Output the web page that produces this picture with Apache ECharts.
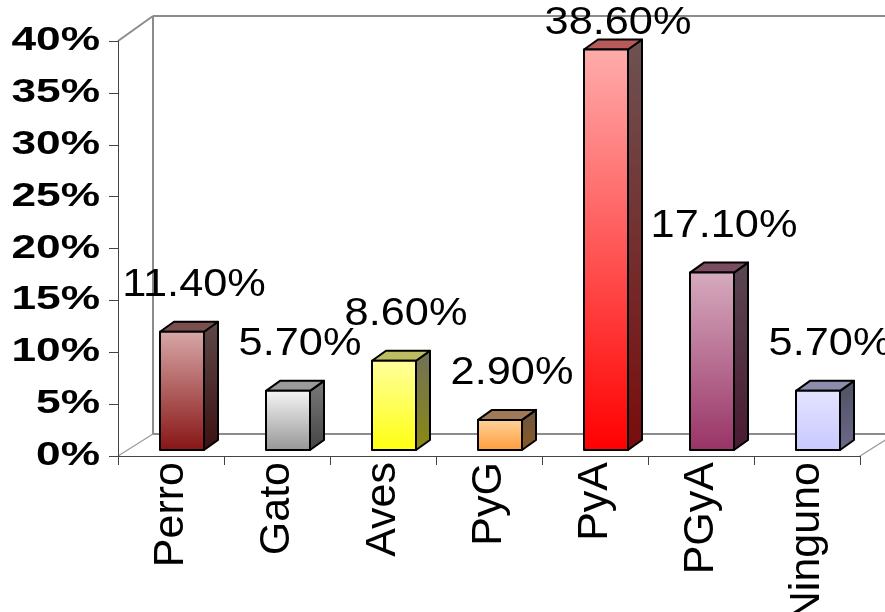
<!DOCTYPE html>
<html>
<head>
<meta charset="utf-8">
<script src="https://cdn.jsdelivr.net/npm/echarts@6/dist/echarts.min.js"></script>
<style>
  html, body { margin: 0; padding: 0; background: #ffffff; }
  #chart { width: 885px; height: 612px; }
</style>
</head>
<body>
<div id="chart"></div>
<script>
// Pet ownership shares
const categories = ['Perro', 'Gato', 'Aves', 'PyG', 'PyA', 'PGyA', 'Ninguno'];
const shares = [0.114, 0.057, 0.086, 0.029, 0.386, 0.171, 0.057];

// Value axis ticks and their labels
const yTicks = [0, 0.05, 0.10, 0.15, 0.20, 0.25, 0.30, 0.35, 0.40];
const yTickLabels = ['0%', '5%', '10%', '15%', '20%', '25%', '30%', '35%', '40%'];

// Box colours: front face gradient, side face gradient, lid
const frontTop    = ['#d8a8a8', '#f6f6f6', '#ffff9e', '#ffd49c', '#ffacac', '#d6abbf', '#e4e4ff'];
const frontBottom = ['#871414', '#969696', '#ffff10', '#ff9c3c', '#ff0000', '#993366', '#c8c8ff'];
const sideTop     = ['#5e4848', '#7a7a7a', '#70705a', '#6c5442', '#6e5252', '#5a4652', '#505062'];
const sideBottom  = ['#3d1010', '#444444', '#8a8a10', '#8a5a22', '#7a0c0c', '#4a1a30', '#6a6a8a'];
const lidColors   = ['#7b4f4f', '#9a9a9a', '#bcbc62', '#a07a58', '#b85a5a', '#7c4c62', '#8c8cac'];

const GRID = { left: 118, right: 25, top: 41, bottom: 156 };
const FONT = '"Liberation Sans", Arial, Helvetica, sans-serif';

// box geometry relative to the front plane of the axes
const BAR_W = 44, SHIFT_X = 11, SHIFT_Y = -6, BOX_DX = 14, BOX_DY = -10;
// wall depth
const WALL_DX = 35, WALL_DY_TOP = -25, WALL_DY_BASE = -22;
// value labels
const LABEL_LIFT = 46, LABEL_SHIFT = 12, LABEL_MIN_Y = 24;

function vGrad(c0, c1) {
  return { type: 'linear', x: 0, y: 0, x2: 0, y2: 1,
    colorStops: [{ offset: 0, color: c0 }, { offset: 1, color: c1 }] };
}

function boxFrame(api, i) {
  const v = api.value(1);
  const topPt = api.coord([i, v]);
  const basePt = api.coord([i, 0]);
  const cx = topPt[0] + SHIFT_X;
  return { cx: cx, l: cx - BAR_W / 2, r: cx + BAR_W / 2,
           t: topPt[1] + SHIFT_Y, b: basePt[1] + SHIFT_Y, v: v };
}

function renderBox(params, api) {
  const i = params.dataIndex;
  const f = boxFrame(api, i);
  const edge = { stroke: '#000000', lineWidth: 2, lineJoin: 'round' };
  return {
    type: 'group',
    children: [
      { type: 'polygon',
        shape: { points: [[f.r, f.t], [f.r + BOX_DX, f.t + BOX_DY], [f.r + BOX_DX, f.b + BOX_DY], [f.r, f.b]] },
        style: Object.assign({ fill: vGrad(sideTop[i], sideBottom[i]) }, edge) },
      { type: 'polygon',
        shape: { points: [[f.l, f.t], [f.l + BOX_DX, f.t + BOX_DY], [f.r + BOX_DX, f.t + BOX_DY], [f.r, f.t]] },
        style: Object.assign({ fill: lidColors[i] }, edge) },
      { type: 'rect',
        shape: { x: f.l, y: f.t, width: BAR_W, height: f.b - f.t },
        style: Object.assign({ fill: vGrad(frontTop[i], frontBottom[i]) }, edge) }
    ]
  };
}

function renderLabel(params, api) {
  const i = params.dataIndex;
  const f = boxFrame(api, i);
  return {
    type: 'text',
    x: f.cx + LABEL_SHIFT,
    y: Math.max(f.t - LABEL_LIFT, LABEL_MIN_Y),
    scaleX: 1.14,
    style: {
      text: (f.v * 100).toFixed(2) + '%',
      x: 0, y: 0,
      fontSize: 38, fontFamily: FONT,
      fill: '#000000', align: 'center', verticalAlign: 'middle'
    }
  };
}

const seriesData = categories.map((c, i) => [i, shares[i]]);

const chart = echarts.init(document.getElementById('chart'), null, { renderer: 'canvas' });

chart.setOption({
  animation: false,
  backgroundColor: '#ffffff',
  grid: Object.assign({ outerBoundsMode: 'none', containLabel: false }, GRID),
  xAxis: {
    type: 'category',
    data: categories,
    boundaryGap: true,
    axisLine: { show: true, lineStyle: { color: '#444444', width: 1 } },
    axisTick: { show: true, length: 9, alignWithLabel: false, lineStyle: { color: '#444444', width: 1 } },
    axisLabel: {
      interval: 0, rotate: 90, margin: 6,
      fontSize: 43, fontFamily: FONT, color: '#000000'
    },
    splitLine: { show: false }
  },
  yAxis: {
    type: 'value',
    min: 0, max: 0.40, interval: 0.05,
    axisLine: { show: true, lineStyle: { color: '#444444', width: 1 } },
    axisTick: { show: true, length: 9, lineStyle: { color: '#444444', width: 1 } },
    axisLabel: { show: false },
    splitLine: { show: false }
  },
  series: [
    { type: 'custom', name: 'boxes', data: seriesData, renderItem: renderBox, z: 3, clip: false },
    { type: 'custom', name: 'values', data: seriesData, renderItem: renderLabel, z: 5, clip: false }
  ]
});

// back walls, floor edges and value-axis labels
const yAt = v => chart.convertToPixel({ yAxisIndex: 0 }, v);
const yTopPx = yAt(yTicks[yTicks.length - 1]);
const yBasePx = yAt(0);
const xL = GRID.left;
const xR = 885 - GRID.right;
const wall = { stroke: '#8c8c8c', lineWidth: 2 };
const thin = { stroke: '#9a9a9a', lineWidth: 1.2 };
const bx = xL + WALL_DX;
const byTop = yTopPx + WALL_DY_TOP;
const byBase = yBasePx + WALL_DY_BASE;

const graphics = [
  { type: 'line', z: 0, shape: { x1: xL, y1: yTopPx, x2: bx, y2: byTop }, style: wall },
  { type: 'line', z: 0, shape: { x1: bx, y1: byTop, x2: xR + WALL_DX, y2: byTop }, style: wall },
  { type: 'line', z: 0, shape: { x1: bx, y1: byTop, x2: bx, y2: byBase }, style: wall },
  { type: 'line', z: 0, shape: { x1: bx, y1: byBase, x2: xR + WALL_DX, y2: byBase }, style: wall },
  { type: 'line', z: 0, shape: { x1: xL, y1: yBasePx, x2: bx, y2: byBase }, style: thin },
  { type: 'line', z: 0, shape: { x1: xR, y1: yBasePx, x2: xR + WALL_DX, y2: byBase }, style: thin }
];

yTicks.forEach((v, k) => {
  graphics.push({
    type: 'text', z: 4,
    x: GRID.left - 18, y: yAt(v),
    scaleX: 1.34,
    style: {
      text: yTickLabels[k], x: 0, y: 0,
      fontSize: 33, fontWeight: 'bold', fontFamily: FONT,
      fill: '#000000', align: 'right', verticalAlign: 'middle'
    }
  });
});

chart.setOption({ graphic: { elements: graphics } });
</script>
</body>
</html>
